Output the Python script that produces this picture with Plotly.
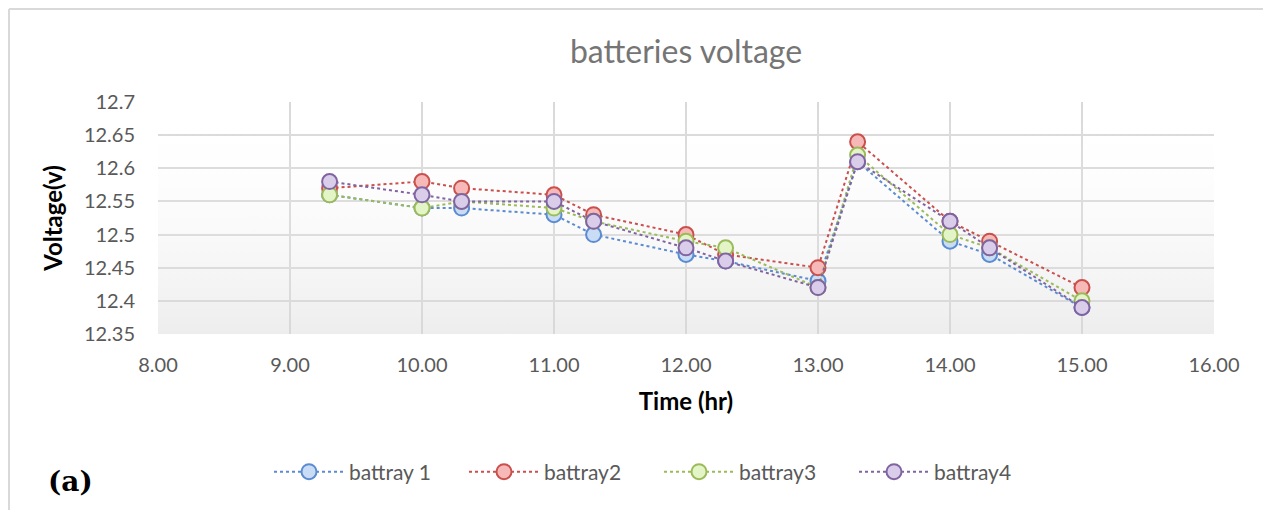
import plotly.graph_objects as go

time_hr = [9.3, 10.0, 10.3, 11.0, 11.3, 12.0, 12.3, 13.0, 13.3, 14.0, 14.3, 15.0]
battray1 = [12.56, 12.54, 12.54, 12.53, 12.50, 12.47, 12.46, 12.43, 12.61, 12.49, 12.47, 12.39]
battray2 = [12.57, 12.58, 12.57, 12.56, 12.53, 12.50, 12.47, 12.45, 12.64, 12.52, 12.49, 12.42]
battray3 = [12.56, 12.54, 12.55, 12.54, 12.52, 12.49, 12.48, 12.42, 12.62, 12.50, 12.48, 12.40]
battray4 = [12.58, 12.56, 12.55, 12.55, 12.52, 12.48, 12.46, 12.42, 12.61, 12.52, 12.48, 12.39]

x_range = [8, 16]
y_range = [12.35, 12.7]

series = [
    ("battray 1", battray1, "#5b8bd0", "#c9dcf5"),
    ("battray2", battray2, "#c9504d", "#f7b9b7"),
    ("battray3", battray3, "#9bbb59", "#e3f4c6"),
    ("battray4", battray4, "#8064a2", "#d9cdea"),
]

FONT = "Lato, 'Open Sans', sans-serif"

fig = go.Figure()
# plot-area background gradient (semi-transparent so gridlines show)
fig.add_trace(go.Scatter(
    x=[x_range[0], x_range[1], x_range[1], x_range[0], x_range[0]],
    y=[y_range[0], y_range[0], y_range[1], y_range[1], y_range[0]],
    mode="none", fill="toself", showlegend=False, hoverinfo="skip",
    fillgradient=dict(type="vertical",
                      colorscale=[[0, "rgba(215,215,215,0.45)"], [1, "rgba(255,255,255,0)"]]),
))
for name, vals, line_c, fill_c in series:
    fig.add_trace(go.Scatter(
        x=time_hr, y=vals, name=name, mode="lines+markers",
        line=dict(color=line_c, width=2, dash="dot"),
        marker=dict(size=15, color=fill_c, line=dict(color=line_c, width=2)),
    ))

W, H = 1263, 502
L, R, T, B = 150, 57, 94, 176
pw, ph = W - L - R, H - T - B

fig.update_layout(
    width=W, height=H,
    margin=dict(l=L, r=R, t=T, b=B),
    paper_bgcolor="white",
    plot_bgcolor="white",
    title=dict(text="batteries voltage", x=0.5, xref="paper", xanchor="center",
               y=1 - 44 / H, yanchor="middle",
               font=dict(family=FONT, size=32, color="#757575")),
    font=dict(family=FONT, size=20, color="#595959"),
    showlegend=True,
    legend=dict(orientation="h", x=(262 - L - 1) / pw, xanchor="left",
                y=-138 / ph, yanchor="middle",
                font=dict(family=FONT, size=21, color="#595959"), itemwidth=70,
                entrywidth=110, entrywidthmode="pixels",
                traceorder="normal"),
    xaxis=dict(range=x_range, dtick=1, tick0=8, tickformat=".2f",
               showgrid=True, gridcolor="#d9d9d9", gridwidth=1.5,
               zeroline=False, showline=False, ticks="", ticklabelstandoff=17,
               title=dict(text="<b>Time (hr)</b>", standoff=18,
                          font=dict(family=FONT, size=24, color="black"))),
    yaxis=dict(range=y_range, dtick=0.05, tick0=12.35,
               showgrid=True, gridcolor="#d9d9d9", gridwidth=1.5,
               zeroline=False, showline=False, ticks="", ticklabelstandoff=22,
               title=dict(text="<b>Voltage(v)</b>", standoff=14,
                          font=dict(family=FONT, size=24, color="black"))),
    annotations=[dict(text="<b>(a)</b>", xref="paper", yref="paper",
                      x=-88 / pw, y=-147 / ph, xanchor="center", yanchor="middle",
                      showarrow=False,
                      font=dict(family="'DejaVu Serif', serif", size=28, color="black"))],
    shapes=[
        dict(type="line", xref="paper", yref="paper",
             x0=-(L - 1) / pw, x1=1 + R / pw, y0=1 + (T - 1) / ph, y1=1 + (T - 1) / ph,
             line=dict(color="#d9d9d9", width=2), layer="below"),
        dict(type="line", xref="paper", yref="paper",
             x0=-(L - 1) / pw, x1=-(L - 1) / pw, y0=-B / ph, y1=1 + (T - 1) / ph,
             line=dict(color="#d9d9d9", width=2), layer="below"),
    ],
)

fig.write_html("out.html")
